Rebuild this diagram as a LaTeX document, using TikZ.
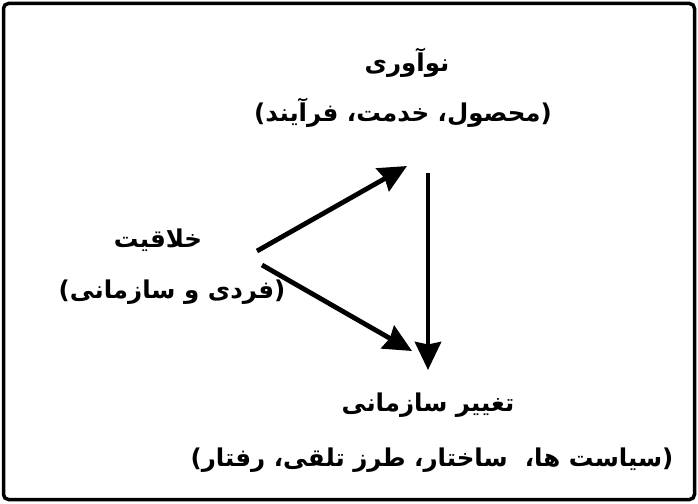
\documentclass[tikz,border=0pt]{standalone}
\usepackage{fontspec}
\newfontfamily\arabicfont[Script=Arabic]{DejaVu Sans}
\TeXXeTstate=1
\usetikzlibrary{arrows.meta}
\tikzset{
  lbl/.style={inner sep=0pt, font=\arabicfont\bfseries\fontsize{24.5}{28}\selectfont},
  conn/.style={line width=4.8pt, -{Stealth[length=28pt,width=26pt,inset=2.5pt]}},
  frame/.style={line width=3.5pt, rounded corners=5pt}
}
\begin{document}
\begin{tikzpicture}[x=1pt,y=-1pt]
\useasboundingbox (0,0) rectangle (698,503);
\draw[frame] (3.5,3.5) rectangle (694.5,499.5);
\node[lbl] (nav) at (407,63) {\beginR نوآوری\endR};
\node[lbl] (navsub) at (403,113) {)\beginR محصول، خدمت، فرآیند\endR(};
\node[lbl] (kh) at (158,240) {\beginR خلاقیت\endR};
\node[lbl] (khsub) at (172,292) {)\beginR فردی و سازمانی\endR(};
\node[lbl] (tag) at (428,405) {\beginR تغییر سازمانی\endR};
\node[lbl] (tagsub) at (432,460) {)\beginR سیاست ها،\ \ ساختار، طرز تلقی، رفتار\endR(};
\coordinate (a1s) at (257,251);
\coordinate (a1e) at (407,166);
\coordinate (a2s) at (262,265);
\coordinate (a2e) at (412,351);
\coordinate (a3s) at (428,173);
\coordinate (a3e) at (428,370);
\draw[conn] (a1s) -- (a1e);
\draw[conn] (a2s) -- (a2e);
\draw[conn] (a3s) -- (a3e);
\end{tikzpicture}
\end{document}
